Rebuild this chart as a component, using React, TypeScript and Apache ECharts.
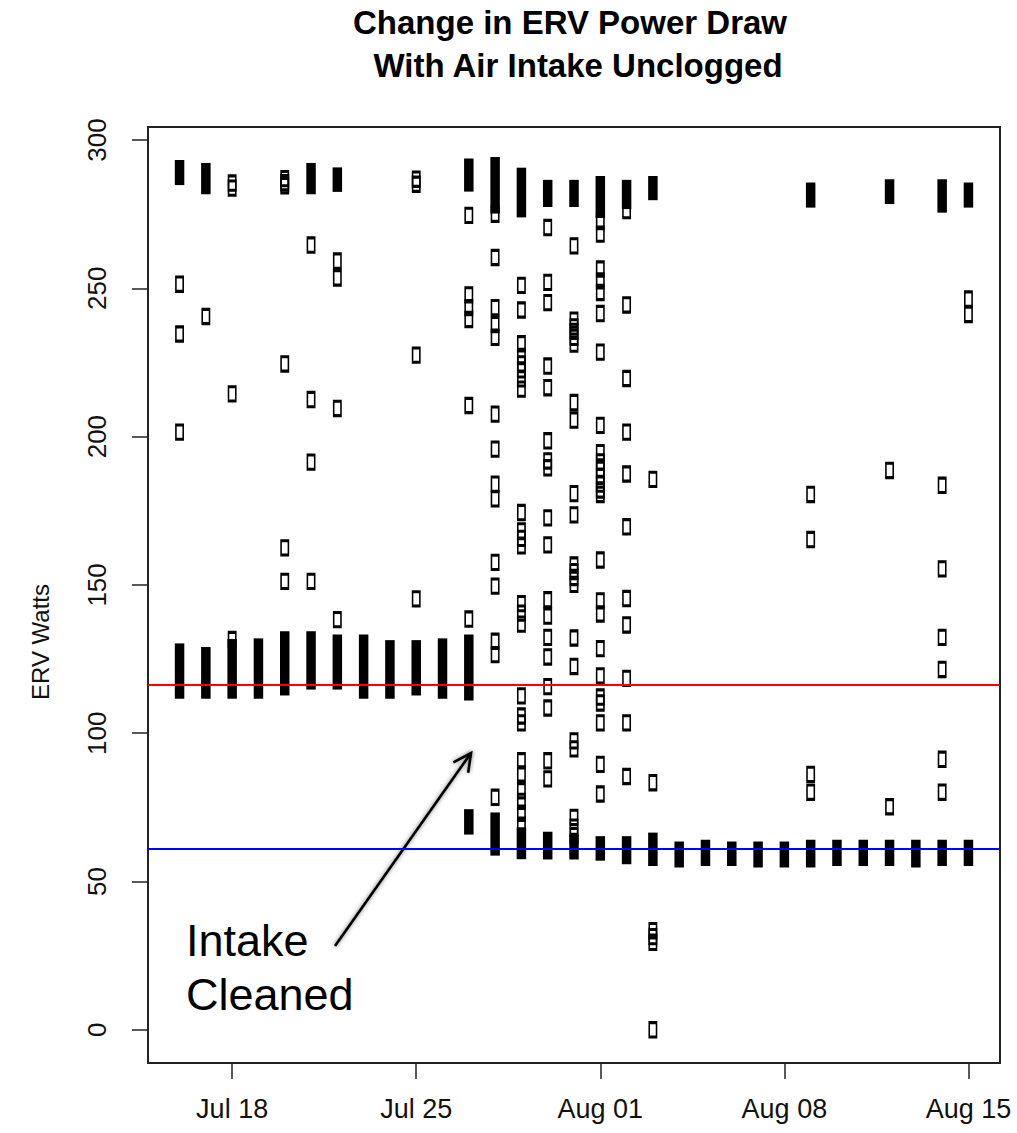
import React, { useEffect, useRef } from 'react';
import * as echarts from 'echarts';

// Days on the x axis (one column of readings per day)
const dayLabels = [
  'Jul 16', 'Jul 17', 'Jul 18', 'Jul 19', 'Jul 20', 'Jul 21', 'Jul 22', 'Jul 23',
  'Jul 24', 'Jul 25', 'Jul 26', 'Jul 27', 'Jul 28', 'Jul 29', 'Jul 30', 'Jul 31',
  'Aug 01', 'Aug 02', 'Aug 03', 'Aug 04', 'Aug 05', 'Aug 06', 'Aug 07', 'Aug 08',
  'Aug 09', 'Aug 10', 'Aug 11', 'Aug 12', 'Aug 13', 'Aug 14', 'Aug 15',
];
const dateTicks = ['Jul 18', 'Jul 25', 'Aug 01', 'Aug 08', 'Aug 15'];
const wattTicks = [0, 50, 100, 150, 200, 250, 300];

// Mean draw before and after cleaning the intake
const cloggedMean = 116.3;
const cleanedMean = 61.0;

// Stretches of back-to-back readings: [day, lowest W, highest W]
const solidRuns: [string, number, number][] = [
  ['Jul 16', 114.4, 127.5], ['Jul 16', 287.6, 290.5],
  ['Jul 17', 114.4, 126.3], ['Jul 17', 284.5, 289.5],
  ['Jul 18', 114.4, 129.0],
  ['Jul 19', 114.4, 129.2],
  ['Jul 20', 115.5, 131.6],
  ['Jul 21', 117.5, 131.6], ['Jul 21', 284.5, 289.5],
  ['Jul 22', 117.5, 130.5], ['Jul 22', 285.3, 288.0],
  ['Jul 23', 114.4, 130.5],
  ['Jul 24', 114.4, 128.6],
  ['Jul 25', 115.5, 128.6],
  ['Jul 26', 114.4, 129.2],
  ['Jul 27', 113.8, 130.5], ['Jul 27', 285.4, 291.0], ['Jul 27', 68.6, 71.6],
  ['Jul 28', 278.0, 291.5], ['Jul 28', 61.5, 70.5],
  ['Jul 29', 276.7, 287.9], ['Jul 29', 60.3, 65.5],
  ['Jul 30', 280.2, 283.8], ['Jul 30', 60.2, 64.0],
  ['Jul 31', 280.2, 283.8], ['Jul 31', 60.2, 63.0],
  ['Aug 01', 276.5, 285.1], ['Aug 01', 59.8, 62.5],
  ['Aug 02', 279.5, 283.8], ['Aug 02', 58.6, 62.5],
  ['Aug 03', 282.5, 285.1], ['Aug 03', 58.0, 63.7],
  ['Aug 04', 57.5, 60.7],
  ['Aug 05', 58.0, 61.3],
  ['Aug 06', 58.0, 60.7],
  ['Aug 07', 57.5, 60.7],
  ['Aug 08', 57.5, 60.7],
  ['Aug 09', 280.0, 282.9], ['Aug 09', 57.5, 61.3],
  ['Aug 10', 58.0, 61.3],
  ['Aug 11', 58.0, 61.3],
  ['Aug 12', 281.2, 284.0], ['Aug 12', 58.0, 61.3],
  ['Aug 13', 57.5, 61.3],
  ['Aug 14', 278.3, 284.0], ['Aug 14', 58.0, 61.3],
  ['Aug 15', 280.0, 282.9], ['Aug 15', 58.0, 61.3],
];

// Individual readings: [day, W]
const readings: [string, number][] = [
  ['Jul 16', 251.4], ['Jul 16', 234.6], ['Jul 16', 201.5],
  ['Jul 17', 240.5],
  ['Jul 18', 283.8], ['Jul 18', 285.5], ['Jul 18', 214.4], ['Jul 18', 131.6],
  ['Jul 20', 284.6], ['Jul 20', 285.6], ['Jul 20', 287.0], ['Jul 20', 224.5], ['Jul 20', 162.5], ['Jul 20', 151.2],
  ['Jul 21', 264.6], ['Jul 21', 212.5], ['Jul 21', 191.4], ['Jul 21', 151.2],
  ['Jul 22', 259.2], ['Jul 22', 253.5], ['Jul 22', 209.5], ['Jul 22', 138.3],
  ['Jul 25', 285.1], ['Jul 25', 286.8], ['Jul 25', 227.5], ['Jul 25', 145.3],
  ['Jul 27', 274.6], ['Jul 27', 247.8], ['Jul 27', 243.5], ['Jul 27', 239.5], ['Jul 27', 210.5], ['Jul 27', 138.5],
  ['Jul 28', 275.0], ['Jul 28', 260.4], ['Jul 28', 243.5], ['Jul 28', 237.8], ['Jul 28', 233.5],
  ['Jul 28', 207.6], ['Jul 28', 195.8], ['Jul 28', 184.0], ['Jul 28', 179.0], ['Jul 28', 157.6],
  ['Jul 28', 149.6], ['Jul 28', 131.0], ['Jul 28', 126.5], ['Jul 28', 78.4],
  ['Jul 29', 251.0], ['Jul 29', 242.7], ['Jul 29', 231.3], ['Jul 29', 227.0], ['Jul 29', 224.5],
  ['Jul 29', 222.5], ['Jul 29', 219.5], ['Jul 29', 216.0], ['Jul 29', 174.4], ['Jul 29', 168.2],
  ['Jul 29', 165.7], ['Jul 29', 163.2], ['Jul 29', 143.7], ['Jul 29', 140.5], ['Jul 29', 136.8],
  ['Jul 29', 112.6], ['Jul 29', 105.8], ['Jul 29', 103.5], ['Jul 29', 90.7], ['Jul 29', 86.3],
  ['Jul 29', 80.6], ['Jul 29', 77.0], ['Jul 29', 73.0], ['Jul 29', 69.0],
  ['Jul 30', 270.5], ['Jul 30', 252.0], ['Jul 30', 245.2], ['Jul 30', 223.8], ['Jul 30', 216.5],
  ['Jul 30', 198.6], ['Jul 30', 191.8], ['Jul 30', 189.5], ['Jul 30', 172.6], ['Jul 30', 163.5],
  ['Jul 30', 145.0], ['Jul 30', 139.5], ['Jul 30', 132.3], ['Jul 30', 125.7], ['Jul 30', 115.7],
  ['Jul 30', 108.5], ['Jul 30', 90.7], ['Jul 30', 84.6],
  ['Jul 31', 264.3], ['Jul 31', 239.3], ['Jul 31', 237.0], ['Jul 31', 235.5], ['Jul 31', 233.5],
  ['Jul 31', 231.2], ['Jul 31', 211.5], ['Jul 31', 205.6], ['Jul 31', 180.8], ['Jul 31', 173.6],
  ['Jul 31', 156.7], ['Jul 31', 154.5], ['Jul 31', 152.5], ['Jul 31', 150.2], ['Jul 31', 132.1],
  ['Jul 31', 122.5], ['Jul 31', 97.4], ['Jul 31', 94.7], ['Jul 31', 71.6], ['Jul 31', 68.3], ['Jul 31', 65.5],
  ['Aug 01', 272.5], ['Aug 01', 268.3], ['Aug 01', 256.5], ['Aug 01', 252.5], ['Aug 01', 248.6],
  ['Aug 01', 241.5], ['Aug 01', 228.5], ['Aug 01', 203.8], ['Aug 01', 194.6], ['Aug 01', 191.5],
  ['Aug 01', 189.0], ['Aug 01', 186.5], ['Aug 01', 184.0], ['Aug 01', 182.0], ['Aug 01', 180.5],
  ['Aug 01', 158.4], ['Aug 01', 144.6], ['Aug 01', 140.2], ['Aug 01', 128.5], ['Aug 01', 119.3],
  ['Aug 01', 112.2], ['Aug 01', 110.2], ['Aug 01', 103.5], ['Aug 01', 89.5], ['Aug 01', 79.5],
  ['Aug 02', 276.2], ['Aug 02', 244.4], ['Aug 02', 219.6], ['Aug 02', 201.5], ['Aug 02', 187.4],
  ['Aug 02', 169.6], ['Aug 02', 145.4], ['Aug 02', 136.5], ['Aug 02', 118.5], ['Aug 02', 103.5], ['Aug 02', 85.4],
  ['Aug 03', 185.6], ['Aug 03', 83.3], ['Aug 03', 33.4], ['Aug 03', 31.4], ['Aug 03', 29.5], ['Aug 03', 0],
  ['Aug 09', 180.5], ['Aug 09', 165.3], ['Aug 09', 86.1], ['Aug 09', 80.1],
  ['Aug 12', 188.6], ['Aug 12', 75.2],
  ['Aug 14', 183.6], ['Aug 14', 155.4], ['Aug 14', 132.3], ['Aug 14', 121.5], ['Aug 14', 91.2], ['Aug 14', 80.1],
  ['Aug 15', 246.4], ['Aug 15', 241.2],
];

// Open rectangle marker, outer size in px
const MARK_W = 9.5;
const MARK_H = 16.5;
const MARK_BORDER = 2.2;

const FONT = '"Liberation Sans", Arial, Helvetica, sans-serif';

const dayIndex = (d: string) => dayLabels.indexOf(d);

export default function App() {
  const ref = useRef<HTMLDivElement>(null);

  useEffect(() => {
    if (!ref.current) return;
    const chart = echarts.init(ref.current, null, { renderer: 'svg' });

    const tickIdx = dateTicks.map(dayIndex);
    const runData = solidRuns.map(([d, lo, hi]) => [dayIndex(d), lo, hi]);
    const pointData = readings.map(([d, w]) => [dayIndex(d), w]);

    // annotation arrow, pixel layout
    const tail = [335, 946];
    const head = [471, 753];
    const dx = head[0] - tail[0];
    const dy = head[1] - tail[1];
    const len = Math.sqrt(dx * dx + dy * dy);
    const ux = -dx / len;
    const uy = -dy / len;
    const headLen = 20;
    const ang = (27 * Math.PI) / 180;
    const wing = (s: number) => [
      head[0] + headLen * (ux * Math.cos(s * ang) - uy * Math.sin(s * ang)),
      head[1] + headLen * (ux * Math.sin(s * ang) + uy * Math.cos(s * ang)),
    ];
    const arrowStyle = {
      stroke: '#000',
      lineWidth: 2.6,
      shadowBlur: 4,
      shadowColor: 'rgba(0,0,0,0.55)',
    };

    chart.setOption({
      animation: false,
      backgroundColor: '#fff',
      grid: {
        left: 148,
        top: 127,
        width: 852,
        height: 936,
        show: true,
        borderColor: '#222',
        borderWidth: 2,
        backgroundColor: 'transparent',
      },
      xAxis: {
        type: 'value',
        min: -1.2,
        max: 31.2,
        axisLine: { show: false, onZero: false },
        splitLine: { show: false },
        axisTick: {
          show: true,
          inside: false,
          customValues: tickIdx,
          length: 16,
          lineStyle: { color: '#222', width: 1.5 },
        },
        axisLabel: {
          customValues: tickIdx,
          formatter: (v: number) => dayLabels[Math.round(v)],
          fontFamily: FONT,
          fontSize: 27,
          color: '#111',
          margin: 32,
        },
      },
      yAxis: {
        type: 'value',
        min: -11.2,
        max: 304.4,
        axisLine: { show: false, onZero: false },
        splitLine: { show: false },
        axisTick: {
          show: true,
          inside: false,
          customValues: wattTicks,
          length: 16,
          lineStyle: { color: '#222', width: 1.5 },
        },
        axisLabel: {
          customValues: wattTicks,
          rotate: 90,
          fontFamily: FONT,
          fontSize: 26,
          color: '#111',
          margin: 38,
        },
      },
      series: [
        {
          type: 'custom',
          z: 2,
          data: runData,
          encode: { x: 0, y: [1, 2] },
          renderItem: (params: any, api: any) => {
            const x = api.value(0);
            const top = api.coord([x, api.value(2)]);
            const bot = api.coord([x, api.value(1)]);
            return {
              type: 'rect',
              shape: {
                x: top[0] - MARK_W / 2,
                y: top[1] - MARK_H / 2,
                width: MARK_W,
                height: bot[1] - top[1] + MARK_H,
              },
              style: { fill: '#000' },
            };
          },
        },
        {
          type: 'scatter',
          z: 3,
          data: pointData,
          symbol: 'rect',
          symbolSize: [MARK_W - MARK_BORDER, MARK_H - MARK_BORDER],
          itemStyle: {
            color: 'rgba(0,0,0,0)',
            borderColor: '#000',
            borderWidth: MARK_BORDER,
            opacity: 1,
          },
          markLine: {
            silent: true,
            symbol: ['none', 'none'],
            label: { show: false },
            data: [
              { yAxis: cloggedMean, lineStyle: { color: '#ff0000', width: 2, type: 'solid' } },
              { yAxis: cleanedMean, lineStyle: { color: '#0000ff', width: 2, type: 'solid' } },
            ],
          },
        },
      ],
      graphic: [
        {
          type: 'text',
          x: 570,
          y: 22,
          style: {
            text: 'Change in ERV Power Draw',
            font: `bold 33px ${FONT}`,
            fill: '#000',
            align: 'center',
            verticalAlign: 'middle',
          },
        },
        {
          type: 'text',
          x: 578,
          y: 65,
          style: {
            text: 'With Air Intake Unclogged',
            font: `bold 33px ${FONT}`,
            fill: '#000',
            align: 'center',
            verticalAlign: 'middle',
          },
        },
        {
          type: 'text',
          x: 40,
          y: 642,
          rotation: Math.PI / 2,
          style: {
            text: 'ERV Watts',
            font: `24px ${FONT}`,
            fill: '#111',
            align: 'center',
            verticalAlign: 'middle',
          },
        },
        {
          type: 'text',
          x: 186,
          y: 940,
          style: {
            text: 'Intake',
            font: `45px ${FONT}`,
            fill: '#000',
            align: 'left',
            verticalAlign: 'middle',
          },
        },
        {
          type: 'text',
          x: 186,
          y: 994,
          style: {
            text: 'Cleaned',
            font: `45px ${FONT}`,
            fill: '#000',
            align: 'left',
            verticalAlign: 'middle',
          },
        },
        {
          type: 'line',
          shape: { x1: tail[0], y1: tail[1], x2: head[0], y2: head[1] },
          style: arrowStyle,
        },
        {
          type: 'polyline',
          shape: { points: [wing(1), head, wing(-1)] },
          style: { ...arrowStyle, fill: 'none' },
        },
      ],
    });

    return () => chart.dispose();
  }, []);

  return (
    <div
      ref={ref}
      style={{ position: 'fixed', left: 0, top: 0, width: 1017, height: 1133, background: '#fff' }}
    />
  );
}
